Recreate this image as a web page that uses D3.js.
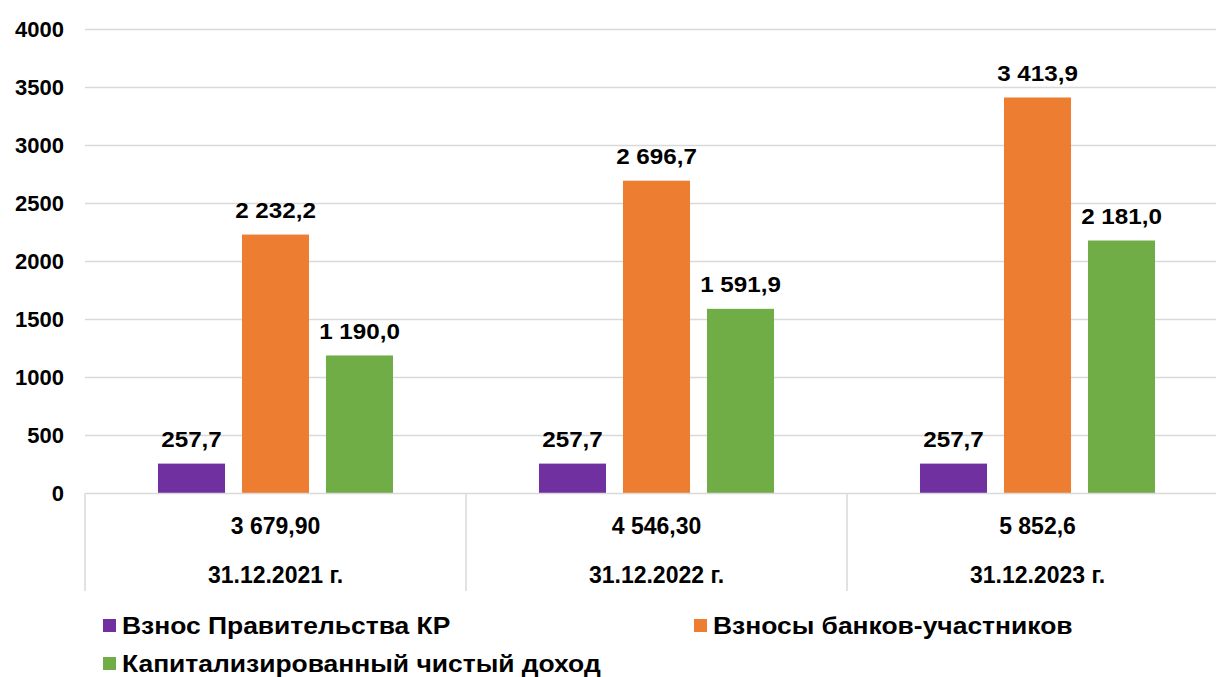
<!DOCTYPE html>
<html><head><meta charset="utf-8">
<script src="https://cdn.jsdelivr.net/npm/d3@7"></script>
<style>body{margin:0;background:#fff}svg{display:block;font-family:"Liberation Sans",Arial,sans-serif;font-weight:bold}</style>
</head><body><svg id="c" width="1216" height="677"></svg>
<script>
const categories = ["31.12.2021 г.", "31.12.2022 г.", "31.12.2023 г."];
const totals = ["3 679,90", "4 546,30", "5 852,6"];
const seriesNames = ["Взнос Правительства КР", "Взносы банков-участников", "Капитализированный чистый доход"];
const govValues = [257.7, 257.7, 257.7];
const bankValues = [2232.2, 2696.7, 3413.9];
const incomeValues = [1190.0, 1591.9, 2181.0];
const govLabels = ["257,7", "257,7", "257,7"];
const bankLabels = ["2 232,2", "2 696,7", "3 413,9"];
const incomeLabels = ["1 190,0", "1 591,9", "2 181,0"];
const yTicks = [0, 500, 1000, 1500, 2000, 2500, 3000, 3500, 4000];
const colors = ["#7030A0", "#ED7D31", "#70AD47"];

const svg = d3.select("#c");
const x0 = d3.scaleBand().domain(categories).range([85, 1228]).paddingInner(0).paddingOuter(0);
const y = d3.scaleLinear().domain([0, 4000]).range([493.5, 29.5]);
const x1 = d3.scaleBand().domain([0,1,2]).range([0, x0.bandwidth()]).paddingInner(0.202).paddingOuter(0.869);

// gridlines
svg.append("g").selectAll("line").data(yTicks.slice(1)).join("line")
  .attr("x1", 85).attr("x2", 1216).attr("y1", d => y(d)).attr("y2", d => y(d))
  .attr("stroke", "#d9d9d9").attr("stroke-width", 1.5);

// y tick labels
svg.append("g").selectAll("text").data(yTicks).join("text")
  .attr("x", 64).attr("y", d => y(d)).attr("dy", "0.35em").attr("text-anchor", "end")
  .attr("font-size", 22).attr("fill", "#000").text(d => d);

const series = [
  {vals: govValues, labels: govLabels},
  {vals: bankValues, labels: bankLabels},
  {vals: incomeValues, labels: incomeLabels}
];
series.forEach((s, si) => {
  const g = svg.append("g");
  g.selectAll("rect").data(categories).join("rect")
    .attr("x", (c) => x0(c) + x1(si)).attr("width", x1.bandwidth())
    .attr("y", (c, i) => y(s.vals[i])).attr("height", (c, i) => y(0) - y(s.vals[i]))
    .attr("fill", colors[si]);
  g.selectAll("text").data(categories).join("text")
    .attr("transform", (c, i) => `translate(${x0(c) + x1(si) + x1.bandwidth() / 2},${y(s.vals[i]) - 16.5}) scale(1.1,1)`)
    .attr("text-anchor", "middle").attr("font-size", 22).attr("fill", "#000")
    .text((c, i) => s.labels[i]);
});

// axis + table lines
svg.append("line").attr("x1", 85).attr("x2", 1216).attr("y1", y(0)).attr("y2", y(0))
  .attr("stroke", "#d9d9d9").attr("stroke-width", 1.5);
svg.append("g").selectAll("line").data(categories).join("line")
  .attr("x1", c => x0(c)).attr("x2", c => x0(c)).attr("y1", y(0)).attr("y2", 591)
  .attr("stroke", "#d9d9d9").attr("stroke-width", 1.5);

// category table text
svg.append("g").selectAll("text").data(categories).join("text")
  .attr("x", c => x0(c) + x0.bandwidth() / 2).attr("y", 534)
  .attr("text-anchor", "middle").attr("font-size", 23).text((c, i) => totals[i]);
svg.append("g").selectAll("text").data(categories).join("text")
  .attr("x", c => x0(c) + x0.bandwidth() / 2).attr("y", 583)
  .attr("text-anchor", "middle").attr("font-size", 23).text(c => c);

// legend
const legendPos = [[103, 619], [694, 619], [103, 657]];
const lg = svg.append("g").selectAll("g").data(seriesNames).join("g")
  .attr("transform", (d, i) => `translate(${legendPos[i][0]},${legendPos[i][1]})`);
lg.append("rect").attr("width", 13).attr("height", 13).attr("fill", (d, i) => colors[i]);
lg.append("text").attr("transform", "translate(19,15) scale(1.15,1)").attr("font-size", 23).text(d => d);
</script></body></html>
